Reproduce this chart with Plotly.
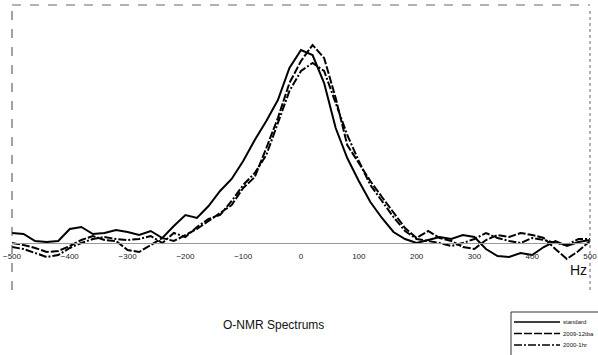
import plotly.graph_objects as go

hz = list(range(-500, 501, 20))

standard = [10, 9, 2, 1, 2, 14, 16, 9, 10, 13, 11, 8, 12, 5, 17, 28, 25, 37, 52, 64,
            82, 103, 122, 143, 175, 193, 188, 160, 115, 85, 62, 41, 25, 11, 4, 0, 3, 6, 4, 8,
            6, -6, -13, -14, -10, -12, -4, 2, -3, 1, 3]
s2009_12 = [0, -2, -5, -9, -8, -3, 3, 7, 3, 2, -7, -9, -2, 5, 2, 8, 14, 22, 30, 38,
            55, 66, 95, 125, 160, 182, 198, 185, 145, 98, 80, 62, 46, 30, 15, 5, 12, 5, 2, -4,
            -6, 3, 8, 6, 10, 8, 5, -6, -16, -8, 2]
s2000_1 = [-4, -6, -10, -14, -12, -5, 0, 4, 6, 4, 3, 4, 7, 0, 10, 6, 16, 24, 28, 42,
           58, 70, 88, 120, 152, 172, 180, 172, 140, 108, 82, 58, 42, 26, 12, 4, 2, 0, -3, 0,
           4, 10, 5, 2, 0, 5, 3, 0, -2, 4, 4]

series = [
    ("standard", standard, "solid"),
    ("2009-12tba", s2009_12, "8px,2px"),
    ("2000-1hr", s2000_1, "8px,2px,2px,2px"),
]

tick_vals = list(range(-500, 501, 100))

fig = go.Figure()
for name, ys, dash in series:
    fig.add_trace(go.Scatter(x=hz, y=ys, mode="lines", name=name, showlegend=False,
                             line=dict(color="black", width=2, dash=dash)))

L, R, T, B = 12, 8, 5, 65
W, H = 598, 355
pw = W - L - R
ph = H - T - B


def px(x):
    return (x - L) / pw


def py(y):
    return (H - B - y) / ph


fig.update_layout(
    width=W, height=H,
    margin=dict(l=L, r=R, t=T, b=B, autoexpand=False),
    paper_bgcolor="white", plot_bgcolor="white",
    font=dict(family="Liberation Sans, Arial, sans-serif", color="black"),
    showlegend=False,
    xaxis=dict(range=[-500, 500], anchor="free", position=47 / ph,
               showline=True, linecolor="#999", linewidth=1, showgrid=False, zeroline=False,
               tickvals=tick_vals, ticks="", tickfont=dict(size=8, color="#222"),
               ticklabelstandoff=5),
    yaxis=dict(range=[-47, 238], visible=False, showgrid=False, zeroline=False),
)

# dashed frame
fig.add_shape(type="line", xref="paper", yref="paper", x0=0, x1=0, y0=0, y1=1,
              line=dict(color="#444", width=1, dash="dash"))
fig.add_shape(type="line", xref="paper", yref="paper", x0=0, x1=1, y0=1, y1=1,
              line=dict(color="#666", width=1, dash="dash"))
fig.add_shape(type="line", xref="paper", yref="paper", x0=1, x1=1, y0=0, y1=0.98,
              line=dict(color="#666", width=1, dash="dot"))

fig.add_annotation(text="Hz", xref="paper", yref="paper", x=px(578), y=py(270),
                   xanchor="center", yanchor="middle",
                   showarrow=False, font=dict(size=14, color="#111"))
fig.add_annotation(text="O-NMR Spectrums", xref="paper", yref="paper", x=px(273), y=py(325),
                   xanchor="center", yanchor="middle",
                   showarrow=False, font=dict(size=12, color="#111"))

# legend box (drawn)
fig.add_shape(type="rect", xref="paper", yref="paper", x0=px(511), x1=px(602), y0=py(360), y1=py(312),
              line=dict(color="#333", width=1), fillcolor="white")
for i, (name, ys, dash) in enumerate(series):
    yy = 322 + i * 11.5
    fig.add_shape(type="line", xref="paper", yref="paper", x0=px(514), x1=px(560), y0=py(yy), y1=py(yy),
                  line=dict(color="black", width=1.5, dash=dash))
    fig.add_annotation(text=name, xref="paper", yref="paper", x=px(561), y=py(yy),
                       xanchor="left", yanchor="middle", showarrow=False,
                       font=dict(size=6, color="#111"))

fig.write_html("out.html")
